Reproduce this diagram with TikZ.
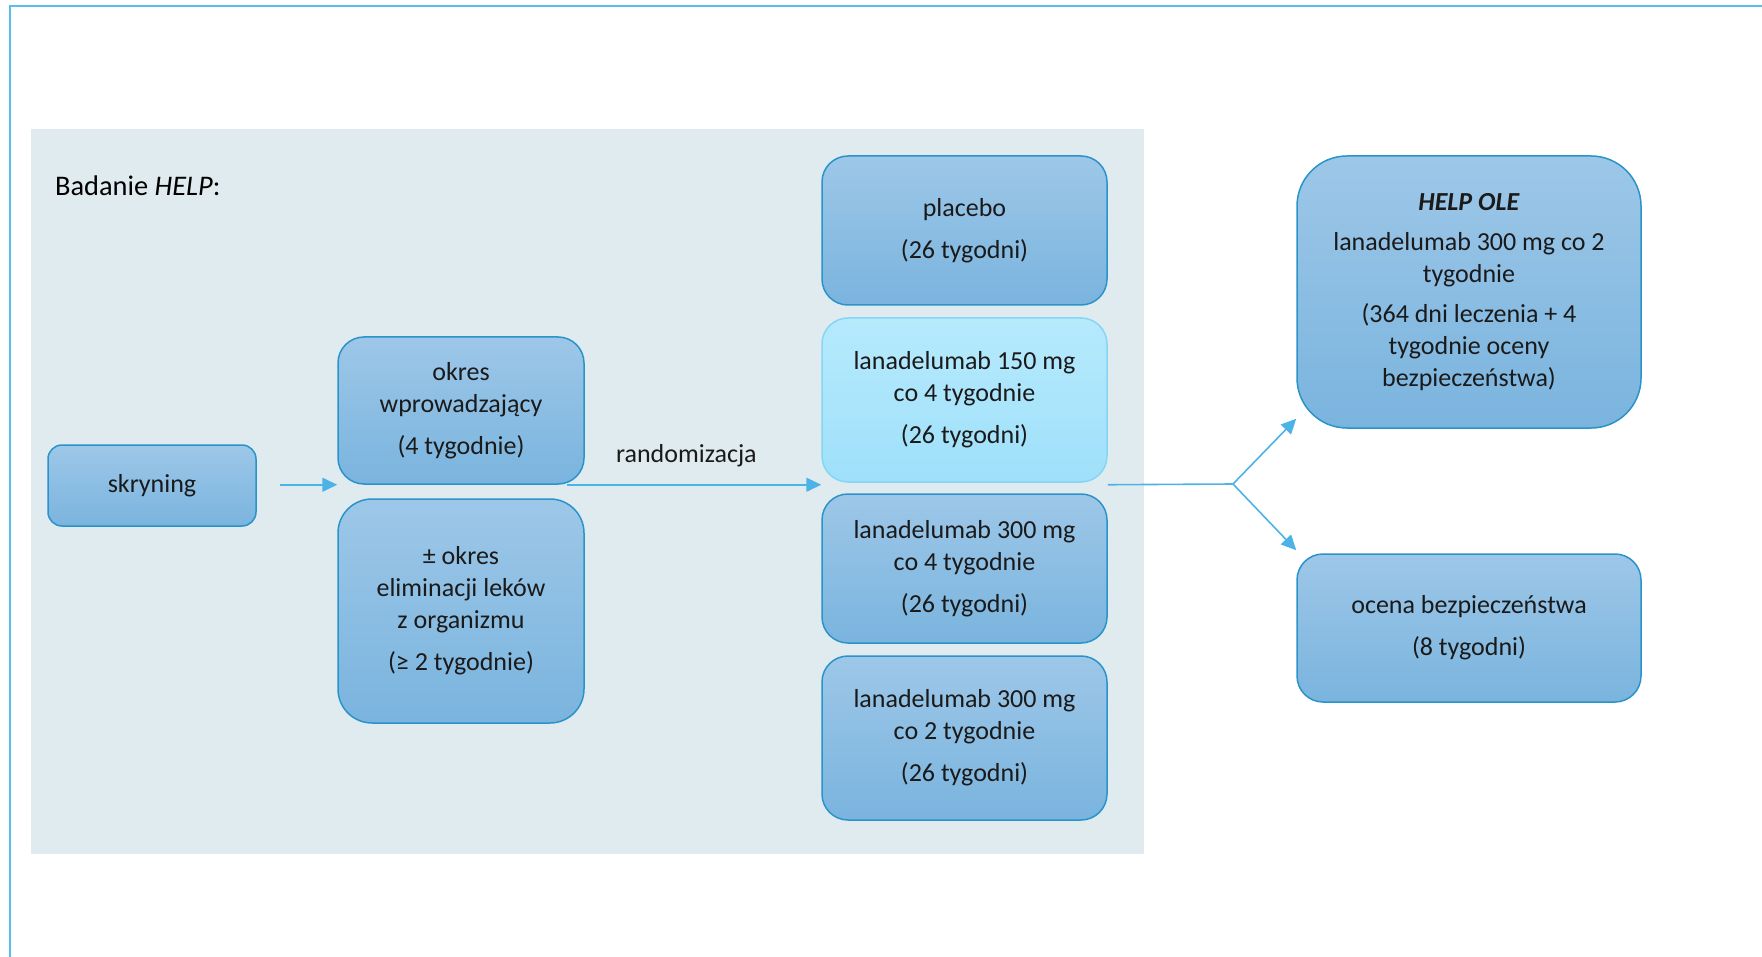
\documentclass[tikz,border=0pt]{standalone}
\usepackage{fontspec}
\setmainfont{Carlito}
\usetikzlibrary{arrows.meta}
\definecolor{ramka}{HTML}{5BBDEA}
\definecolor{tlo}{HTML}{E0EBF0}
\definecolor{gora}{HTML}{9DC7E8}
\definecolor{dol}{HTML}{7AB4DE}
\definecolor{obrys}{HTML}{2A93C9}
\definecolor{jasnygora}{HTML}{B6EAFD}
\definecolor{jasnydol}{HTML}{9FE0FA}
\definecolor{jasnyobrys}{HTML}{85D5F5}
\definecolor{strzalka}{HTML}{4DB3E6}
\definecolor{tekst}{HTML}{1A1A1A}

\tikzset{
  etap/.style={draw=obrys, line width=0.75pt, rounded corners=13pt,
    top color=gora, bottom color=dol, align=center, text=tekst,
    font=\fontsize{13}{16}\selectfont, inner sep=2pt},
  jasny/.style={etap, draw=jasnyobrys, top color=jasnygora, bottom color=jasnydol},
  linia/.style={draw=strzalka, line width=0.8pt},
  strz/.style={linia, -{Triangle[length=7.5pt,width=7pt]}}
}

\begin{document}
\begin{tikzpicture}[x=0.5pt,y=-0.5pt]
				\useasboundingbox (0,0) rectangle (1762,957);
				\draw[ramka, line width=1pt] (10,957) -- (10,6) -- (1762,6);
				\fill[tlo] (31,129) rectangle (1144,854);
				\node[anchor=west, font=\fontsize{14.2}{17}\selectfont] (tytul) at (48,186) {Badanie \textit{HELP}:};
				% lewa strona
				\node[etap, rounded corners=7pt, minimum width=104pt, minimum height=40.5pt] (skryning) at (152,485.5) {skryning};
				\node[etap, minimum width=123pt, minimum height=73.5pt] (okres) at (461,410.5) {okres\\wprowadzający\\[4.8pt](4 tygodnie)};
				\node[etap, rounded corners=17pt, minimum width=123pt, minimum height=112pt] (elim) at (461,611) {± okres\\eliminacji leków\\z organizmu\\[4.8pt](≥ 2 tygodnie)};
				% ramiona badania
				\node[etap, minimum width=142.5pt, minimum height=74.5pt] (placebo) at (964.5,230.5) {placebo\\[4.8pt](26 tygodni)};
				\node[jasny, minimum width=142.5pt, minimum height=82pt] (lana150) at (964.5,400) {lanadelumab 150 mg\\co 4 tygodnie\\[4.8pt](26 tygodni)};
				\node[etap, minimum width=142.5pt, minimum height=74.5pt] (lana300a) at (964.5,568.5) {lanadelumab 300 mg\\co 4 tygodnie\\[4.8pt](26 tygodni)};
				\node[etap, minimum width=142.5pt, minimum height=82pt] (lana300b) at (964.5,738) {lanadelumab 300 mg\\co 2 tygodnie\\[4.8pt](26 tygodni)};
				% po badaniu
				\node[etap, rounded corners=25pt, minimum width=172pt, minimum height=136pt] (ole) at (1469,292) {\textbf{\textit{HELP OLE}}\\[4pt]lanadelumab 300 mg co 2\\tygodnie\\[4pt](364 dni leczenia + 4\\tygodnie oceny\\bezpieczeństwa)};
				\node[etap, minimum width=172pt, minimum height=74pt] (ocena) at (1469,628) {ocena bezpieczeństwa\\[4.8pt](8 tygodni)};
				% strzalki
				\coordinate (rozwidlenie) at (1233,484);
				\draw[strz] ([xshift=11.5pt]skryning.east |- okres.south west) -- (okres.south west);
				\draw[strz] ([xshift=-9pt]okres.south east) -- node[pos=0.47, above=5pt, font=\fontsize{13}{16}\selectfont, text=tekst] {randomizacja} (okres.south east -| lana150.west);
				\draw[linia] (lana150.east |- okres.south east) -- (rozwidlenie);
				\draw[strz] (rozwidlenie) -- ([yshift=5pt]ole.south west);
				\draw[strz] (rozwidlenie) -- ([yshift=1.5pt]ocena.north west);
			\end{tikzpicture}
\end{document}
